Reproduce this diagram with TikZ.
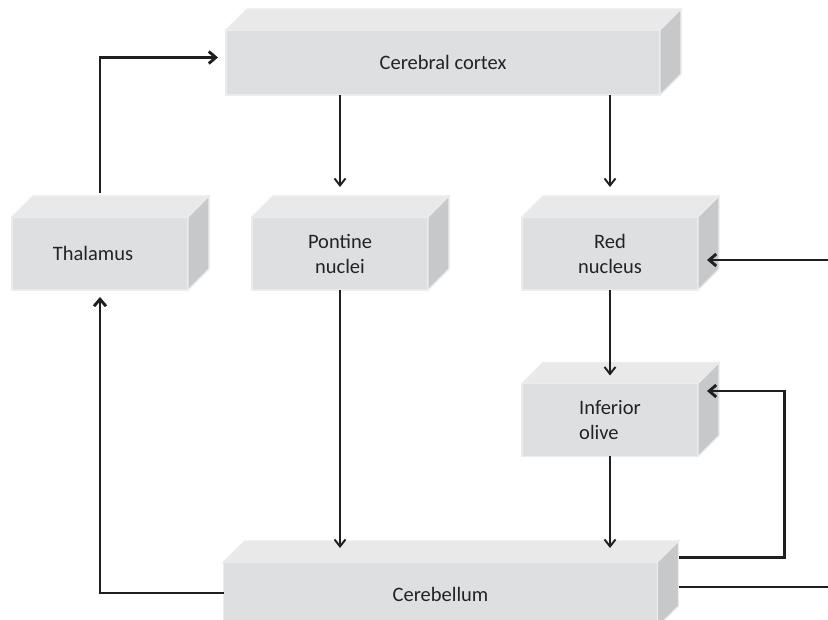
\documentclass[tikz,border=0pt]{standalone}
\usepackage{fontspec}
\setmainfont{Carlito}
\usepackage{tikz}
\usetikzlibrary{arrows.meta}
\definecolor{frontgray}{RGB}{222,223,225}
\definecolor{topgray}{RGB}{233,233,234}
\definecolor{sidegray}{RGB}{199,200,202}
\definecolor{rimgray}{RGB}{236,236,237}
\definecolor{textgray}{RGB}{35,35,35}
\tikzstyle{block}=[rectangle, fill=frontgray, draw=rimgray, line width=1.2pt, outer sep=0pt,
  text=textgray, font=\fontsize{20.5}{25}\selectfont]
\tikzstyle{small}=[block, minimum width=176pt, minimum height=73pt]
\tikzstyle{wide}=[block, minimum width=434pt, minimum height=65pt]
\tikzstyle{topface}=[fill=topgray, draw=rimgray, line width=1.2pt]
\tikzstyle{sideface}=[fill=sidegray, draw=rimgray, line width=1.2pt]
\tikzstyle{thin_arrow}=[line width=1.9pt, color=black!88, -{Straight Barb[length=7pt,width=11pt]}]
\tikzstyle{thick_line}=[line width=2.9pt, color=black!88]
\tikzstyle{thick_arrow}=[thick_line, -{Straight Barb[length=7pt,width=12pt]}]

\begin{document}
\begin{tikzpicture}[x=1pt, y=-1pt]

    \useasboundingbox (0,0) rectangle (828,620);
    \fill[white] (0,0) rectangle (828,620);
    \clip (0,0) rectangle (828,620);

    % front faces
    \node[wide] (cortex) at (443,62.5) {Cerebral cortex};
    \node[small] (thalamus) at (100,253.5) {\hspace*{-14pt}Thalamus};
    \node[small, align=center] (pontine) at (340,253.5) {Pontine\\nuclei};
    \node[small, align=center] (red) at (610,253.5) {Red\\nucleus};
    \node[small, align=left] (olive) at (610,420) {Inferior\\olive};
    \node[wide] (cerebellum) at (440.5,594.5) {Cerebellum};

    % top and side faces, using a loop
    \foreach \n in {cortex,thalamus,pontine,red,olive,cerebellum}
    {
    \filldraw[topface] (\n.north west) -- ++(21,-21)
      -- ([shift={(21,-21)}]\n.north east) -- (\n.north east) -- cycle;
    \filldraw[sideface] (\n.north east) -- ++(21,-21)
      -- ([shift={(21,-21)}]\n.south east) -- (\n.south east) -- cycle;
    }

    % free ends on the right edge
    \coordinate (in_red) at (828,260);
    \coordinate (out_cb) at (828,587);
    \coordinate (olive_in) at ([xshift=9pt,yshift=29pt]olive.east);

    % vertical arrows
    \draw[thin_arrow] (cortex.south -| pontine.north) -- ([yshift=30pt]pontine.north);
    \draw[thin_arrow] (cortex.south -| red.north) -- ([yshift=30pt]red.north);
    \draw[thin_arrow] (pontine.south) -- ([yshift=14pt]cerebellum.north -| pontine.south);
    \draw[thin_arrow] (red.south) -- ([yshift=8pt]olive.north);
    \draw[thin_arrow] (olive.south) -- ([yshift=14pt]cerebellum.north -| olive.south);

    % loops round the sides
    \draw[thick_arrow] ([yshift=24pt]thalamus.north) |- ([xshift=-8pt,yshift=5pt]cortex.west);
    \draw[thick_arrow] ([yshift=1.5pt]cerebellum.west) -| ([yshift=-7pt]thalamus.south);
    \draw[thick_arrow] ([xshift=21pt,yshift=37pt]cerebellum.east) -- ++(106,0) |- (olive_in);
    \draw[thick_line] ([xshift=21pt,yshift=7.5pt]cerebellum.east) -- (out_cb);
    \draw[thick_arrow] (in_red) -- ([xshift=9pt,yshift=-6.5pt]red.east);
  \end{tikzpicture}
\end{document}
